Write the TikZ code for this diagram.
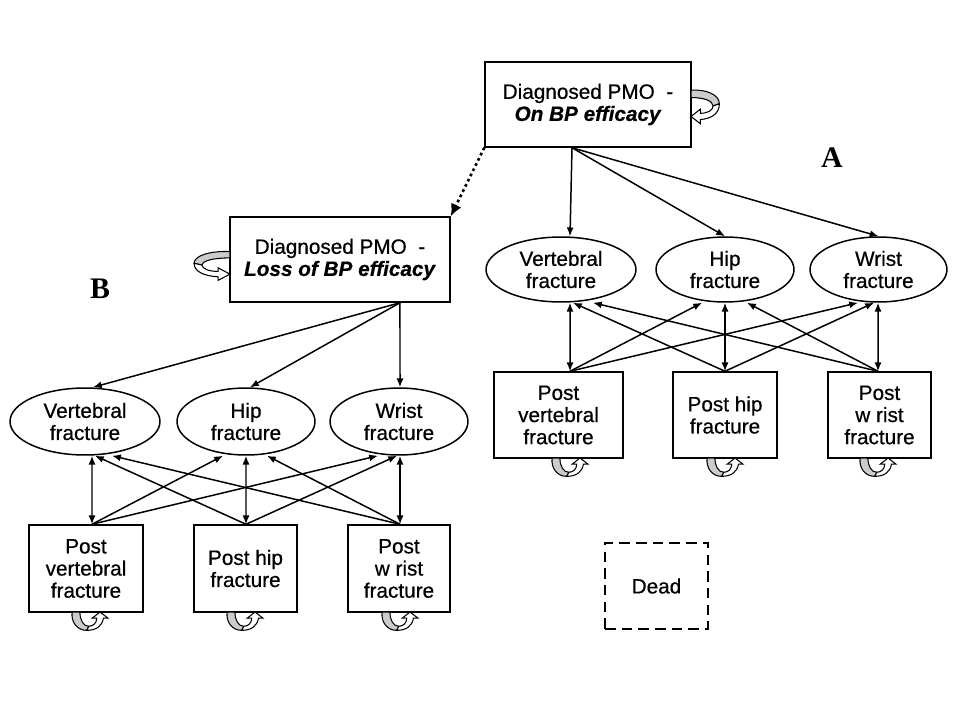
\documentclass[tikz,border=0pt]{standalone}
\usepackage{fontspec}
\setmainfont{Liberation Sans}[FakeBold=0.6]
\newfontfamily\lblserif{Liberation Serif}
\usetikzlibrary{arrows.meta,shapes.geometric}

\tikzset{
  txt/.style={font=\fontsize{11.8}{12.6}\selectfont},
  box/.style={draw, line width=0.85pt, rectangle, inner sep=0pt, align=center, txt},
  oval/.style={draw, line width=0.85pt, ellipse, inner sep=0pt, align=center, txt},
  conn/.style={line width=0.85pt, -{Latex[length=5pt,width=4pt]}},
  biconn/.style={line width=0.85pt, {Latex[length=5pt,width=4pt]}-{Latex[length=5pt,width=4pt]}},
  dotconn/.style={line width=1.5pt, dash pattern=on 1.5pt off 1.8pt, -{Latex[length=7pt,width=6.5pt]}},
  deadbox/.style={box, dash pattern=on 6pt off 3.5pt},
  grouplabel/.style={font=\lblserif\bfseries\fontsize{17}{17}\selectfont}
}

\newcommand\loopglyph{%
  \filldraw[fill=gray!40, line width=0.6pt] (0,16) .. controls (14,17) and (27,12) .. (27,3) -- (21,1) .. controls (21,6) and (12,9) .. (0,9) -- cycle;
  \filldraw[fill=white, line width=0.6pt] (27,3) .. controls (27,-6) and (20,-11) .. (9,-12) -- (9,-16) -- (0,-9) -- (9,-2) -- (9,-6) .. controls (16,-6) and (21,-3) .. (21,1) -- cycle;}

\begin{document}
\begin{tikzpicture}[x=0.02cm, y=-0.02cm]
\useasboundingbox (0,0) rectangle (960,720);

% top boxes
\node[box, minimum width=4.12cm, minimum height=1.7cm] (topA) at (588,104.5) {Diagnosed PMO\ \ -\\\textbf{\textit{On BP efficacy}}};
\node[box, minimum width=4.4cm, minimum height=1.7cm] (topB) at (340,259.5) {Diagnosed PMO\ \ -\\\textbf{\textit{Loss of BP efficacy}}};

% group A ellipses
\node[oval, minimum width=3.0cm, minimum height=1.3cm] (vA) at (561,269.5) {Vertebral\\fracture};
\node[oval, minimum width=2.76cm, minimum height=1.3cm] (hA) at (725,269.5) {Hip\\fracture};
\node[oval, minimum width=2.74cm, minimum height=1.3cm] (wA) at (878.5,269.5) {Wrist\\fracture};

% group A post boxes
\node[box, minimum width=2.58cm, minimum height=1.72cm] (pvA) at (558.5,415) {Post\\vertebral\\fracture};
\node[box, minimum width=2.08cm, minimum height=1.72cm] (phA) at (725,415) {Post hip\\fracture};
\node[box, minimum width=2.06cm, minimum height=1.72cm] (pwA) at (879.5,415) {Post\\w rist\\fracture};

% group B ellipses
\node[oval, minimum width=3.0cm, minimum height=1.34cm] (vB) at (85,421.5) {Vertebral\\fracture};
\node[oval, minimum width=2.76cm, minimum height=1.34cm] (hB) at (246,421.5) {Hip\\fracture};
\node[oval, minimum width=2.76cm, minimum height=1.34cm] (wB) at (399,421.5) {Wrist\\fracture};

% group B post boxes
\node[box, minimum width=2.28cm, minimum height=1.74cm] (pvB) at (86,568.5) {Post\\vertebral\\fracture};
\node[box, minimum width=2.06cm, minimum height=1.74cm] (phB) at (245.5,568.5) {Post hip\\fracture};
\node[box, minimum width=2.04cm, minimum height=1.74cm] (pwB) at (399,568.5) {Post\\w rist\\fracture};

% dead
\node[deadbox, minimum width=2.06cm, minimum height=1.72cm] (dead) at (656.5,586) {Dead};

% labels
\node[grouplabel] (labA) at (832,158) {A};
\node[grouplabel] (labB) at (100,289) {B};

% A connectors
\draw[conn] ([xshift=-0.32cm]topA.south) -- ([xshift=0.18cm]vA.north);
\draw[conn] ([xshift=-0.32cm]topA.south) -- (hA.north);
\draw[conn] ([xshift=-0.32cm]topA.south) -- (wA.north);
\draw[dotconn] (topA.south west) -- (topB.north east);

\draw[biconn] ([xshift=0.18cm]vA.south) -- ([xshift=0.23cm]pvA.north);
\draw[biconn] (hA.south) -- (phA.north);
\draw[biconn] ([xshift=-0.01cm]wA.south) -- ([xshift=-0.03cm]pwA.north);

\draw[conn] ([xshift=0.23cm]pvA.north) -- ([xshift=-0.46cm]hA.south);
\draw[conn] ([xshift=0.23cm]pvA.north) -- ([xshift=-0.41cm]wA.south);
\draw[conn] (phA.north) -- ([xshift=0.24cm]vA.south);
\draw[conn] (phA.north) -- ([xshift=-0.09cm]wA.south);
\draw[conn] ([xshift=-0.03cm]pwA.north) -- ([xshift=0.64cm]vA.south);
\draw[conn] ([xshift=-0.03cm]pwA.north) -- ([xshift=0.44cm]hA.south);

% B connectors
\draw[conn] ([xshift=1.2cm]topB.south) -- ([xshift=0.16cm]vB.north);
\draw[conn] ([xshift=1.2cm]topB.south) -- ([xshift=0.08cm]hB.north);
\draw[conn] ([xshift=1.2cm]topB.south) -- ([xshift=0.02cm]wB.north);

\draw[biconn] ([xshift=0.14cm]vB.south) -- ([xshift=0.12cm]pvB.north);
\draw[biconn] (hB.south) -- ([xshift=0.01cm]phB.north);
\draw[biconn] ([xshift=0.02cm]wB.south) -- ([xshift=0.02cm]pwB.north);

\draw[conn] ([xshift=0.12cm]pvB.north) -- ([xshift=-0.46cm]hB.south);
\draw[conn] ([xshift=0.12cm]pvB.north) -- ([xshift=-0.42cm]wB.south);
\draw[conn] ([xshift=0.01cm]phB.north) -- ([xshift=0.2cm]vB.south);
\draw[conn] ([xshift=0.01cm]phB.north) -- ([xshift=-0.04cm]wB.south);
\draw[conn] ([xshift=0.02cm]pwB.north) -- ([xshift=0.54cm]vB.south);
\draw[conn] ([xshift=0.02cm]pwB.north) -- ([xshift=0.42cm]hB.south);

% self loops
\begin{scope}[shift={(691,107)}, y=0.02cm, xscale=1.05, yscale=1.05]\loopglyph\end{scope}
\begin{scope}[shift={(230,266)}, y=0.02cm, xscale=-1.33, yscale=0.9]\loopglyph\end{scope}
\begin{scope}[shift={(570,458)}, y=0.02cm, cm={0,-1,-1,0,(0,0)}, xscale=0.68, yscale=1.12]\loopglyph\end{scope}
\begin{scope}[shift={(725,458)}, y=0.02cm, cm={0,-1,-1,0,(0,0)}, xscale=0.68, yscale=1.12]\loopglyph\end{scope}
\begin{scope}[shift={(878,458)}, y=0.02cm, cm={0,-1,-1,0,(0,0)}, xscale=0.68, yscale=1.12]\loopglyph\end{scope}
\begin{scope}[shift={(90,612)}, y=0.02cm, cm={0,-1,-1,0,(0,0)}, xscale=0.68, yscale=1.12]\loopglyph\end{scope}
\begin{scope}[shift={(245,612)}, y=0.02cm, cm={0,-1,-1,0,(0,0)}, xscale=0.68, yscale=1.12]\loopglyph\end{scope}
\begin{scope}[shift={(400,612)}, y=0.02cm, cm={0,-1,-1,0,(0,0)}, xscale=0.68, yscale=1.12]\loopglyph\end{scope}
\end{tikzpicture}
\end{document}
